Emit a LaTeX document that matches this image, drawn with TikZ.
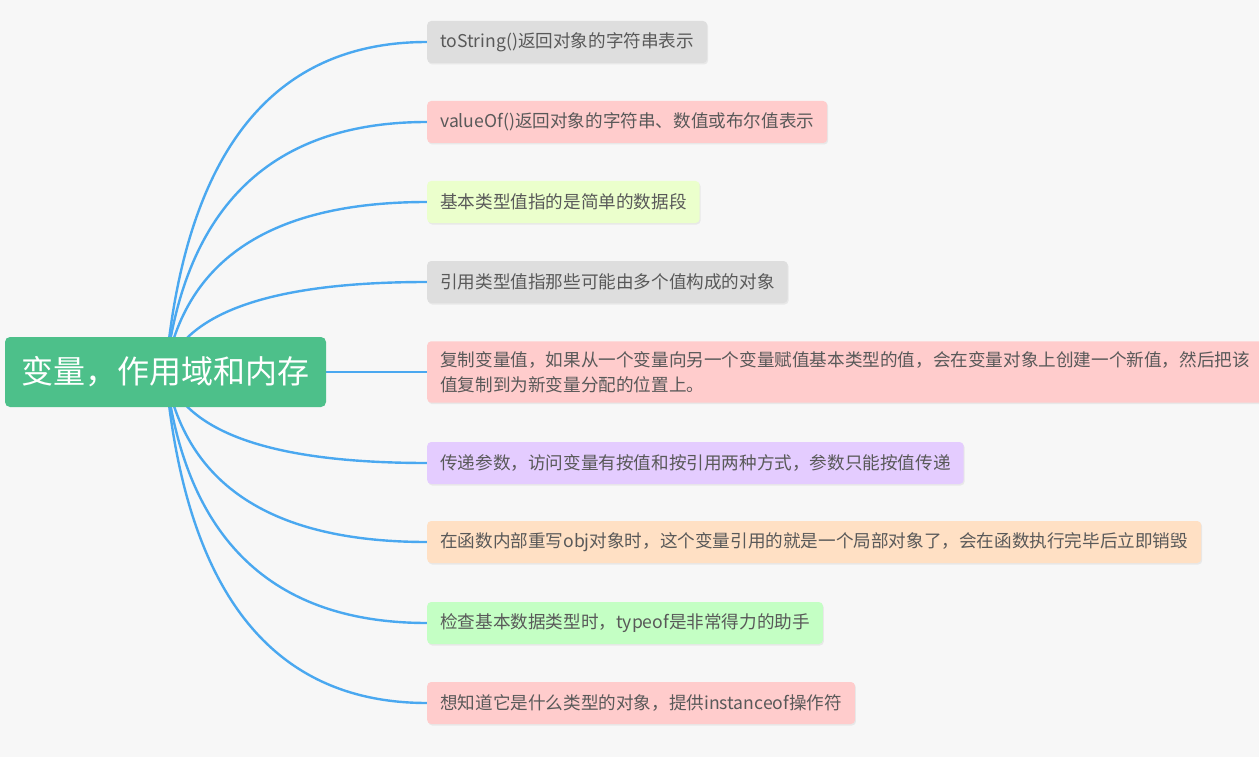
\documentclass[tikz,border=0pt]{standalone}
\usepackage{fontspec}
\setmainfont{Noto Sans CJK SC}
\usepackage{tikz}
\usetikzlibrary{calc, shadows}
\definecolor{hgrund}{HTML}{F7F7F7}
\definecolor{gruen}{HTML}{4DC08A}
\definecolor{blau}{HTML}{4AA8F0}
\definecolor{grau}{HTML}{DEDEDE}
\definecolor{rosa}{HTML}{FFCCCC}
\definecolor{limette}{HTML}{EBFFCC}
\definecolor{lila}{HTML}{E4CCFF}
\definecolor{pfirsich}{HTML}{FFE0C4}
\definecolor{hgruen}{HTML}{C4FFC4}
\definecolor{schrift}{HTML}{595959}
\pgfdeclarelayer{hinten}
\pgfdeclarelayer{aeste}
\pgfsetlayers{hinten,aeste,main}

\begin{document}
\begin{tikzpicture}[x=1pt, y=-1pt,
				ast/.style={rounded corners=4pt, minimum height=42pt, inner xsep=13pt, inner ysep=10pt, align=left, text=schrift,
				font=\fontsize{17.6}{25}\selectfont, drop shadow={opacity=0.12, shadow xshift=1pt, shadow yshift=-1.5pt}},
				linie/.style={draw=blau, line width=2.4pt}]
				%Rahmen
				\useasboundingbox (0,0) rectangle (1259,757);
				\begin{pgfonlayer}{hinten}
				\fill[hgrund] (0,0) rectangle (1259,757);
				\end{pgfonlayer}
				% Hauptknoten
				\node[fill=gruen, text=white, rounded corners=5pt, minimum width=321pt, minimum height=70pt,
				font=\fontsize{32}{36}\selectfont] (root) at (165.5,372) {变量，作用域和内存};
				% Zweige
				\foreach \i/\y/\farbe/\txt in {1/42/grau/{toString()返回对象的字符串表示},
				2/122/rosa/{valueOf()返回对象的字符串、数值或布尔值表示},
				3/202/limette/{基本类型值指的是简单的数据段},
				4/282/grau/{引用类型值指那些可能由多个值构成的对象},
				5/372/rosa/{复制变量值，如果从一个变量向另一个变量赋值基本类型的值，会在变量对象上创建一个新值，然后把该\\值复制到为新变量分配的位置上。},
				6/463/lila/{传递参数，访问变量有按值和按引用两种方式，参数只能按值传递},
				7/542/pfirsich/{在函数内部重写obj对象时，这个变量引用的就是一个局部对象了，会在函数执行完毕后立即销毁},
				8/623/hgruen/{检查基本数据类型时，typeof是非常得力的助手},
				9/703/rosa/{想知道它是什么类型的对象，提供instanceof操作符}}
				\node[ast, fill=\farbe, anchor=west] (k\i) at (427,\y) {\txt};
				% Verbindungen
				\begin{pgfonlayer}{aeste}
				\foreach \i/\y in {1/42,2/122,3/202,4/282,6/463,7/542,8/623,9/703}
				\draw[linie] (root.center) .. controls ($(root.center)!.667!(195,\y)$) and ($(k\i.west)!.667!(195,\y)$) .. (k\i.west);
				\draw[linie] (root.center) -- (k5.west);
				\end{pgfonlayer}
\end{tikzpicture}
\end{document}
